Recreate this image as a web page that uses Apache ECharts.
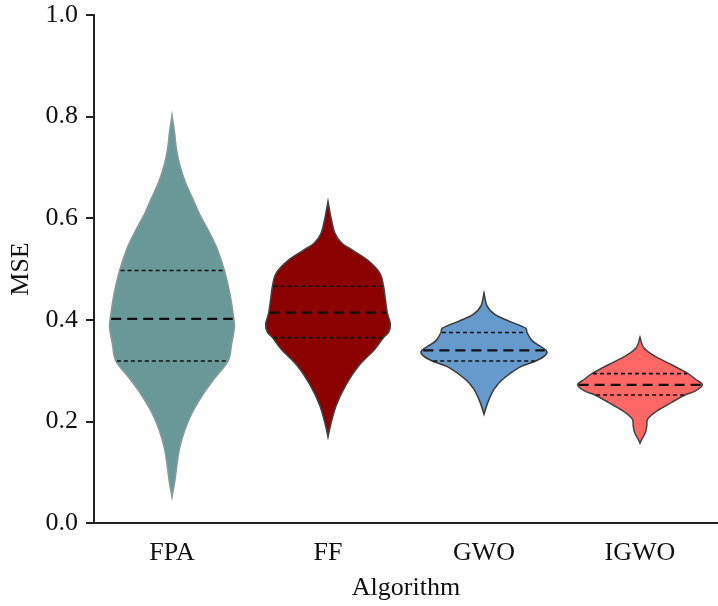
<!DOCTYPE html>
<html>
<head>
<meta charset="utf-8">
<script src="https://cdn.jsdelivr.net/npm/echarts@6/dist/echarts.min.js"></script>
<style>html,body{margin:0;padding:0;background:#fff}#chart{width:718px;height:606px}</style>
</head>
<body>
<div id="chart"></div>
<script>
const categories = ['FPA', 'FF', 'GWO', 'IGWO'];

// violin profiles: MSE level and relative density (1 = widest)
const fpaLevels  = [0.803, 0.770, 0.737, 0.705, 0.672, 0.639, 0.606, 0.574, 0.541, 0.497, 0.450, 0.402, 0.384, 0.352, 0.319, 0.286, 0.254, 0.221, 0.188, 0.149, 0.116, 0.084, 0.051];
const fpaDensity = [0,     0.04,  0.07,  0.125, 0.21,  0.33,  0.45,  0.59,  0.72,  0.84,  0.93,  0.99,  1.0,   0.955, 0.90,  0.69,  0.50,  0.34,  0.22,  0.125, 0.08,  0.047, 0];

const ffLevels  = [0.633, 0.597, 0.571, 0.551, 0.538, 0.518, 0.492, 0.466, 0.440, 0.414, 0.391, 0.375, 0.365, 0.342, 0.309, 0.270, 0.231, 0.192, 0.169];
const ffDensity = [0,     0.055, 0.11,  0.22,  0.38,  0.63,  0.83,  0.89,  0.92,  0.95,  1.0,   0.97,  0.89,  0.75,  0.49,  0.28,  0.13,  0.04,  0];

const gwoLevels  = [0.453, 0.427, 0.410, 0.397, 0.384, 0.375, 0.358, 0.339, 0.329, 0.319, 0.306, 0.283, 0.263, 0.237, 0.214];
const gwoDensity = [0,     0.05,  0.18,  0.41,  0.66,  0.69,  0.78,  1.0,   0.97,  0.83,  0.56,  0.30,  0.16,  0.06,  0];

const igwoLevels  = [0.366, 0.345, 0.329, 0.312, 0.294, 0.283, 0.272, 0.260, 0.252, 0.237, 0.221, 0.205, 0.192, 0.178, 0.165, 0.157];
const igwoDensity = [0,     0.06,  0.23,  0.50,  0.77,  0.89,  1.0,   0.89,  0.72,  0.50,  0.28,  0.125, 0.11,  0.086, 0.03,  0];

const lowerQuartiles = [0.319, 0.365, 0.319, 0.252];
const medians        = [0.402, 0.414, 0.340, 0.272];
const upperQuartiles = [0.497, 0.466, 0.375, 0.294];

const fillColors = ['#689898', '#8b0000', '#6699cc', '#ff6666'];
const edgeColors = ['#8a9a9a', '#444444', '#3a3a3a', '#444444'];

const levels = [fpaLevels, ffLevels, gwoLevels, igwoLevels];
const densities = [fpaDensity, ffDensity, gwoDensity, igwoDensity];

function catmull(pts) {
  let d = '';
  for (let k = 0; k < pts.length - 1; k++) {
    const p0 = pts[k - 1] || pts[k], p1 = pts[k], p2 = pts[k + 1], p3 = pts[k + 2] || pts[k + 1];
    const c1 = [p1[0] + (p2[0] - p0[0]) / 6, p1[1] + (p2[1] - p0[1]) / 6];
    const c2 = [p2[0] - (p3[0] - p1[0]) / 6, p2[1] - (p3[1] - p1[1]) / 6];
    d += 'C' + c1[0] + ',' + c1[1] + ' ' + c2[0] + ',' + c2[1] + ' ' + p2[0] + ',' + p2[1];
  }
  return d;
}

function densityAt(lv, dn, v) {
  for (let k = 0; k < lv.length - 1; k++) {
    const a = lv[k], b = lv[k + 1];
    if (v <= a && v >= b) {
      const t = (a - v) / (a - b);
      return dn[k] + t * (dn[k + 1] - dn[k]);
    }
  }
  return 0;
}

function renderItem(params, api) {
  const i = params.dataIndex;
  const lv = levels[i], dn = densities[i];
  const cx = api.coord([i, 0])[0];
  const band = api.coord([1, 0])[0] - api.coord([0, 0])[0];
  const half = Math.abs(band) * 0.4;
  const right = lv.map((v, k) => [cx + dn[k] * half, api.coord([i, v])[1]]);
  const left = lv.map((v, k) => [cx - dn[k] * half, api.coord([i, v])[1]]).reverse();
  const d = 'M' + right[0][0] + ',' + right[0][1] + catmull(right) +
            'L' + left[0][0] + ',' + left[0][1] + catmull(left) + 'Z';
  const children = [{
    type: 'path',
    shape: { pathData: d },
    style: { fill: fillColors[i], stroke: edgeColors[i], lineWidth: 1.5 }
  }];
  const qLine = (v, dash, w) => {
    const hw = densityAt(lv, dn, v) * half - 1;
    const y = api.coord([i, v])[1];
    return { type: 'line', shape: { x1: cx - hw, y1: y, x2: cx + hw, y2: y },
             style: { stroke: '#111', lineWidth: w, lineDash: dash } };
  };
  children.push(qLine(lowerQuartiles[i], [4, 3], 1.6));
  children.push(qLine(upperQuartiles[i], [4, 3], 1.6));
  children.push(qLine(medians[i], [10, 6], 2.2));
  return { type: 'group', children: children };
}

const font = 'Liberation Serif, Times New Roman, serif';
const chart = echarts.init(document.getElementById('chart'), null, { renderer: 'canvas' });
chart.setOption({
  animation: false,
  backgroundColor: '#ffffff',
  grid: { left: 93, right: -8, top: 15, bottom: 80 },
  xAxis: {
    type: 'category',
    data: categories,
    boundaryGap: true,
    name: 'Algorithm',
    nameLocation: 'middle',
    nameGap: 52,
    nameTextStyle: { fontFamily: font, fontSize: 26, color: '#111' },
    axisLine: { lineStyle: { color: '#222', width: 2 } },
    axisTick: { alignWithLabel: true, length: 8, lineStyle: { color: '#222', width: 2 } },
    axisLabel: { fontFamily: font, fontSize: 26, color: '#111', margin: 17 },
    splitLine: { show: false }
  },
  yAxis: {
    type: 'value',
    min: 0, max: 1, interval: 0.2,
    name: 'MSE',
    nameLocation: 'middle',
    nameGap: 60,
    nameRotate: 90,
    nameTextStyle: { fontFamily: font, fontSize: 26, color: '#111' },
    axisLine: { show: true, lineStyle: { color: '#222', width: 2 } },
    axisTick: { show: true, length: 8, lineStyle: { color: '#222', width: 2 } },
    axisLabel: { fontFamily: font, fontSize: 26, color: '#111', margin: 16, formatter: v => v.toFixed(1) },
    splitLine: { show: false }
  },
  series: [{
    type: 'custom',
    renderItem: renderItem,
    encode: { x: 0, y: 1 },
    data: categories.map((c, i) => [i, medians[i]]),
    clip: false
  }]
});
</script>
</body>
</html>
